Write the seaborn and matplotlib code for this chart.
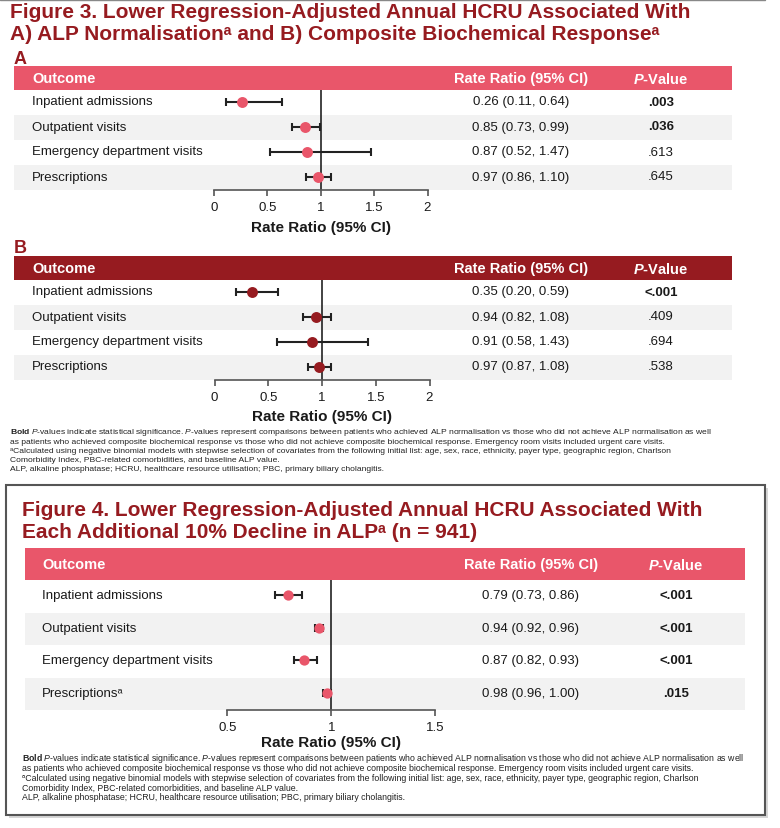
import numpy as np
import pandas as pd
import matplotlib
import matplotlib.pyplot as plt
import matplotlib.patches as mpatches
from matplotlib.transforms import blended_transform_factory
import seaborn as sns

# ---- data ----
outcomes = ['Inpatient admissions', 'Outpatient visits',
            'Emergency department visits', 'Prescriptions']
outcomes_fig4 = ['Inpatient admissions', 'Outpatient visits',
                 'Emergency department visits', 'Prescriptionsᵃ']

# Figure 3A: ALP normalisation
rr_a = [0.26, 0.85, 0.87, 0.97]
lo_a = [0.11, 0.73, 0.52, 0.86]
hi_a = [0.64, 0.99, 1.47, 1.10]
p_a = ['.003', '.036', '.613', '.645']
sig_a = [True, True, False, False]

# Figure 3B: composite biochemical response
rr_b = [0.35, 0.94, 0.91, 0.97]
lo_b = [0.20, 0.82, 0.58, 0.87]
hi_b = [0.59, 1.08, 1.43, 1.08]
p_b = ['<.001', '.409', '.694', '.538']
sig_b = [True, False, False, False]

# Figure 4: each additional 10% decline in ALP
rr_4 = [0.79, 0.94, 0.87, 0.98]
lo_4 = [0.73, 0.92, 0.82, 0.96]
hi_4 = [0.86, 0.96, 0.93, 1.00]
p_4 = ['<.001', '<.001', '<.001', '.015']
sig_4 = [True, True, True, True]

ticks_3 = [0, 0.5, 1, 1.5, 2]
ticks_4 = [0.5, 1, 1.5]

footnotes = [
    r'$\mathbf{Bold}$ $\mathit{P}$-values indicate statistical significance. $\mathit{P}$-values represent comparisons between patients who achieved ALP normalisation vs those who did not achieve ALP normalisation as well',
    'as patients who achieved composite biochemical response vs those who did not achieve composite biochemical response. Emergency room visits included urgent care visits.',
    'ᵃCalculated using negative binomial models with stepwise selection of covariates from the following initial list: age, sex, race, ethnicity, payer type, geographic region, Charlson',
    'Comorbidity Index, PBC-related comorbidities, and baseline ALP value.',
    'ALP, alkaline phosphatase; HCRU, healthcare resource utilisation; PBC, primary biliary cholangitis.',
]

# ---- style ----
sns.set_theme(style='white')
plt.rcParams['font.family'] = ['Liberation Sans', 'DejaVu Sans']
plt.rcParams['mathtext.fontset'] = 'custom'
plt.rcParams['mathtext.rm'] = 'Liberation Sans'
plt.rcParams['mathtext.it'] = 'Liberation Sans:italic'
plt.rcParams['mathtext.bf'] = 'Liberation Sans:bold'
plt.rcParams['mathtext.bfit'] = 'Liberation Sans:italic:bold'

DARK_RED = '#961B20'
PINK = '#E9566A'
STRIPE = '#F2F2F2'

W, H = 780, 829
fig = plt.figure(figsize=(7.8, 8.29), dpi=100)


def ftext(px, py, s, **kw):
    fig.text(px / W, 1 - py / H, s, **kw)


def forest(x0, x1, top, hdr_h, row_h, zero_px, unit_px, ticks, labels, rr, lo, hi,
           pvals, sig, hdr_color, mk_color, cols, mk_size, xlabel_gap):
    bottom = top + hdr_h + 4 * row_h
    ax = fig.add_axes([x0 / W, 1 - bottom / H, (x1 - x0) / W, (bottom - top) / H])
    ax.set_xlim((x0 - zero_px) / unit_px, (x1 - zero_px) / unit_px)
    ax.set_ylim(bottom, top)

    band_tops = top + hdr_h + row_h * np.arange(4)
    df = pd.DataFrame({'outcome': labels, 'rr': rr, 'lo': lo, 'hi': hi,
                       'y': band_tops + row_h / 2 - 1})

    ax.axhspan(top, top + hdr_h, color=hdr_color, lw=0, zorder=0)
    for i in (1, 3):
        ax.axhspan(band_tops[i], band_tops[i] + row_h, color=STRIPE, lw=0, zorder=0)

    ax.vlines(1, top + hdr_h, bottom, color='#222222', lw=1.2, zorder=2)
    ax.errorbar(df['rr'], df['y'], xerr=[df['rr'] - df['lo'], df['hi'] - df['rr']],
                fmt='none', ecolor='#222222', elinewidth=1.5, capsize=3.2,
                capthick=1.5, zorder=3)
    sns.scatterplot(data=df, x='rr', y='y', color=mk_color, s=mk_size,
                    linewidth=0, legend=False, ax=ax, zorder=4)

    trans = blended_transform_factory(fig.transFigure, ax.transData)
    hy = top + hdr_h / 2
    ax.text(cols[0] / W, hy, 'Outcome', transform=trans, color='white',
            fontsize=10.5, fontweight='bold', va='center')
    ax.text(cols[1] / W, hy, 'Rate Ratio (95% CI)', transform=trans, color='white',
            fontsize=10.5, fontweight='bold', va='center', ha='center')
    ax.text(cols[2] / W, hy, r'$\mathbfit{P}$-Value', transform=trans, color='white',
            fontsize=10.5, fontweight='bold', va='center', ha='center')
    for _, row in df.iterrows():
        ax.text(cols[0] / W, row['y'], row['outcome'], transform=trans,
                fontsize=9.5, va='center', color='#1a1a1a')
        ax.text(cols[1] / W, row['y'], f"{row['rr']:.2f} ({row['lo']:.2f}, {row['hi']:.2f})",
                transform=trans, fontsize=9.5, va='center', ha='center', color='#1a1a1a')
    for y, p, s in zip(df['y'], pvals, sig):
        ax.text(cols[2] / W, y, p, transform=trans, fontsize=9.5, va='center',
                ha='center', color='#1a1a1a', fontweight='bold' if s else 'normal')

    for side in ('top', 'left', 'right'):
        ax.spines[side].set_visible(False)
    ax.spines['bottom'].set_bounds(ticks[0], ticks[-1])
    ax.spines['bottom'].set_color('#555555')
    ax.spines['bottom'].set_linewidth(1.2)
    ax.set_xticks(ticks)
    ax.set_xticklabels([f'{t:g}' for t in ticks], fontsize=9.5, color='#1a1a1a')
    ax.tick_params(axis='x', direction='out', length=4.5, width=1.2,
                   color='#555555', pad=3.5, bottom=True)
    ax.set_yticks([])
    ax.set_xlabel('')
    ax.set_ylabel('')
    ax.set_facecolor('none')
    ax.text(1, bottom + xlabel_gap, 'Rate Ratio (95% CI)', ha='center', va='center',
            fontsize=11, fontweight='bold', color='#1a1a1a')
    return ax


# ---- Figure 3 ----
fig.add_artist(plt.Line2D([0, 765 / W], [1 - 1 / H, 1 - 1 / H], color='#888888', lw=1))
ftext(10, 12, 'Figure 3. Lower Regression-Adjusted Annual HCRU Associated With',
      fontsize=15, fontweight='bold', color=DARK_RED, va='center')
ftext(10, 34, 'A) ALP Normalisationᵃ and B) Composite Biochemical Responseᵃ',
      fontsize=15, fontweight='bold', color=DARK_RED, va='center')
ftext(14, 59, 'A', fontsize=13, fontweight='bold', color=DARK_RED, va='center')

forest(14, 732, 67, 24, 25, 214, 106.75, ticks_3, outcomes, rr_a, lo_a, hi_a,
       p_a, sig_a, PINK, PINK, (32, 521, 661), 62, 37)

ftext(14, 249, 'B', fontsize=13, fontweight='bold', color=DARK_RED, va='center')
forest(14, 732, 257, 24, 25, 214.5, 107.5, ticks_3, outcomes, rr_b, lo_b, hi_b,
       p_b, sig_b, DARK_RED, DARK_RED, (32, 521, 661), 62, 36)

for i, line in enumerate(footnotes):
    ftext(10, 433 + 9.15 * i, line, fontsize=6.1, color='#222222', va='center')

# ---- Figure 4 box ----
fig.add_artist(mpatches.Rectangle((9 / W, 1 - 819 / H), 759 / W, 330 / H,
                                  facecolor='#BBBBBB', edgecolor='none', alpha=0.6,
                                  transform=fig.transFigure, zorder=-2))
fig.add_artist(mpatches.Rectangle((6 / W, 1 - 816 / H), 759 / W, 330 / H,
                                  facecolor='white', edgecolor='#555555', lw=1.5,
                                  transform=fig.transFigure, zorder=-1))

ftext(22, 511, 'Figure 4. Lower Regression-Adjusted Annual HCRU Associated With',
      fontsize=15, fontweight='bold', color=DARK_RED, va='center')
ftext(22, 533, 'Each Additional 10% Decline in ALPᵃ (n = 941)',
      fontsize=15, fontweight='bold', color=DARK_RED, va='center')

forest(25, 745, 549, 32, 32.5, 227.5 - 0.5 * 207.5, 207.5, ticks_4, outcomes_fig4,
       rr_4, lo_4, hi_4, p_4, sig_4, PINK, PINK, (42, 531, 676), 55, 32)

for i, line in enumerate(footnotes):
    ftext(22, 759 + 9.75 * i, line, fontsize=6.35, color='#222222', va='center')

plt.savefig('out.png', dpi=100)
